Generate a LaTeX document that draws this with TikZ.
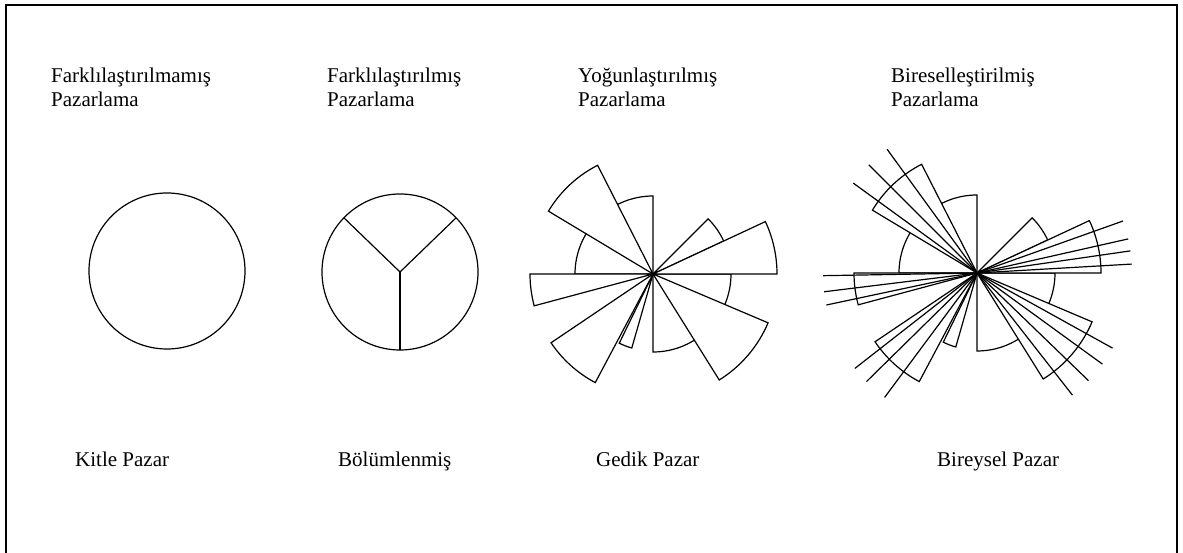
\documentclass[tikz,border=0pt]{standalone}
\usepackage{fontspec}
\setmainfont{Liberation Serif}
\newcommand{\mywedge}[4]{\filldraw[figline] (#1) -- ++(#2:#4) arc[start angle=#2, end angle=#3, radius=#4] -- cycle;}
\newcommand{\myray}[3]{\draw[figline] (#1) -- ++(#2:#3);}
\begin{document}
\begin{tikzpicture}[x=1pt,y=1pt,
  figline/.style={draw=black, fill=white, line width=1.2pt, line join=miter},
  lbl/.style={anchor=base west, inner sep=0pt, font=\fontsize{21}{24}\selectfont},
  frameline/.style={draw=black, line width=2pt}]
\useasboundingbox (0,0) rectangle (1183,553);
\draw[frameline] (6,0) -- (6,548) -- (1177,548) -- (1177,0);
% centers
\coordinate (c1) at (167,282);
\coordinate (c2) at (400,281);
\coordinate (c3) at (653,279);
\coordinate (c4) at (977,280);
% diagram 1
\draw[figline] (c1) circle[radius=78];
% diagram 2
\draw[figline] (c2) circle[radius=78];
\draw[figline] (c2) -- ++(270:78);
\draw[figline] (c2) -- ++(136:78);
\draw[figline] (c2) -- ++(44:78);
% diagrams 3 and 4
\foreach \c in {c3,c4}{
  \mywedge{\c}{90}{180}{78}
  \mywedge{\c}{270}{360}{78}
  \mywedge{\c}{25}{45}{78}
  \mywedge{\c}{244}{254}{77}
  \mywedge{\c}{117}{149}{122}
  \mywedge{\c}{180}{195}{123}
  \mywedge{\c}{0}{25}{124}
  \mywedge{\c}{302}{337}{125}
  \mywedge{\c}{214}{242}{123}
}
% diagram 4 rays
\foreach \a in {126,135,144}{\myray{c4}{\a}{153}}
\foreach \a in {308,316,324,331}{\myray{c4}{\a}{155}}
\foreach \a in {3.3,8.2,12.7,19.6}{\myray{c4}{\a}{155}}
\foreach \a in {181,187,192}{\myray{c4}{\a}{154}}
\foreach \a in {218,224.5,233.4}{\myray{c4}{\a}{155}}
% labels
\node[lbl] (t1a) at (51,470) {Farklılaştırılmamış};
\node[lbl] (t1b) at (51,446) {Pazarlama};
\node[lbl] (t2a) at (327,470) {Farklılaştırılmış};
\node[lbl] (t2b) at (327,446) {Pazarlama};
\node[lbl] (t3a) at (578,470) {Yoğunlaştırılmış};
\node[lbl] (t3b) at (578,446) {Pazarlama};
\node[lbl] (t4a) at (891,470) {Bireselleştirilmiş};
\node[lbl] (t4b) at (891,446) {Pazarlama};
\node[lbl] (b1) at (75,86) {Kitle Pazar};
\node[lbl] (b2) at (338,86) {Bölümlenmiş};
\node[lbl] (b3) at (596,86) {Gedik Pazar};
\node[lbl] (b4) at (937,86) {Bireysel Pazar};
\end{tikzpicture}
\end{document}
